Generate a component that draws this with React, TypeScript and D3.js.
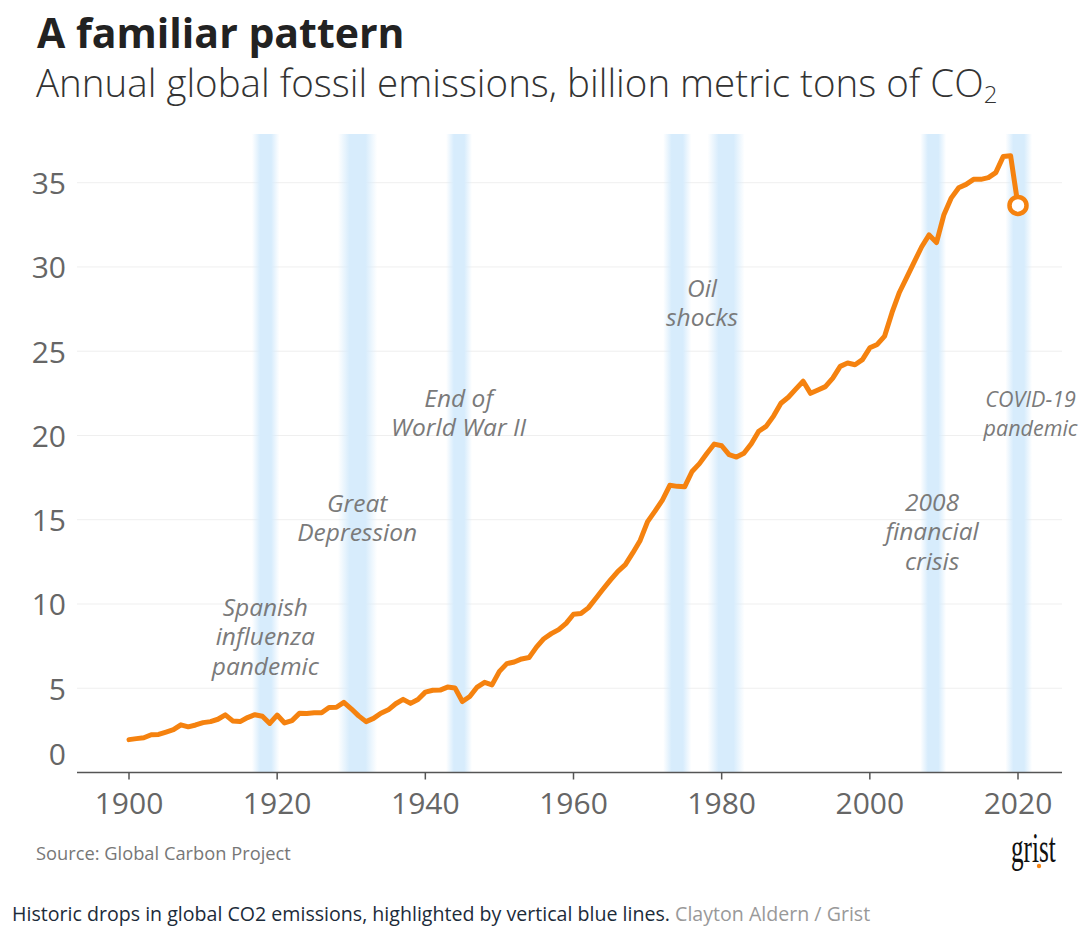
import React from "react";
import * as d3 from "d3";

const years = [
  1900, 1901, 1902, 1903, 1904, 1905, 1906, 1907, 1908, 1909,
  1910, 1911, 1912, 1913, 1914, 1915, 1916, 1917, 1918, 1919,
  1920, 1921, 1922, 1923, 1924, 1925, 1926, 1927, 1928, 1929,
  1930, 1931, 1932, 1933, 1934, 1935, 1936, 1937, 1938, 1939,
  1940, 1941, 1942, 1943, 1944, 1945, 1946, 1947, 1948, 1949,
  1950, 1951, 1952, 1953, 1954, 1955, 1956, 1957, 1958, 1959,
  1960, 1961, 1962, 1963, 1964, 1965, 1966, 1967, 1968, 1969,
  1970, 1971, 1972, 1973, 1974, 1975, 1976, 1977, 1978, 1979,
  1980, 1981, 1982, 1983, 1984, 1985, 1986, 1987, 1988, 1989,
  1990, 1991, 1992, 1993, 1994, 1995, 1996, 1997, 1998, 1999,
  2000, 2001, 2002, 2003, 2004, 2005, 2006, 2007, 2008, 2009,
  2010, 2011, 2012, 2013, 2014, 2015, 2016, 2017, 2018, 2019,
  2020,
];

const emissions = [
  1.95, 2.01, 2.06, 2.24, 2.26, 2.4, 2.54, 2.83, 2.71, 2.82,
  2.96, 3.02, 3.16, 3.42, 3.06, 3.02, 3.26, 3.43, 3.34, 2.91,
  3.41, 2.94, 3.08, 3.51, 3.5, 3.54, 3.55, 3.86, 3.87, 4.16,
  3.78, 3.36, 3.02, 3.21, 3.52, 3.72, 4.08, 4.34, 4.1, 4.33,
  4.77, 4.88, 4.89, 5.07, 5.02, 4.21, 4.51, 5.07, 5.35, 5.2,
  6.0, 6.46, 6.56, 6.74, 6.82, 7.44, 7.94, 8.24, 8.48, 8.85,
  9.39, 9.43, 9.77, 10.33, 10.89, 11.43, 11.94, 12.34, 13.03, 13.77,
  14.89, 15.51, 16.17, 17.04, 16.98, 16.95, 17.86, 18.33, 18.93, 19.49,
  19.39, 18.86, 18.72, 18.94, 19.51, 20.25, 20.54, 21.15, 21.91, 22.27,
  22.75, 23.22, 22.5, 22.7, 22.9, 23.4, 24.1, 24.3, 24.2, 24.5,
  25.2, 25.4, 25.9, 27.3, 28.5, 29.4, 30.3, 31.2, 31.9, 31.45,
  33.1, 34.1, 34.7, 34.9, 35.2, 35.2, 35.3, 35.6, 36.55, 36.6,
  33.65,
];

const yTicks = [0, 5, 10, 15, 20, 25, 30, 35];
const xTicks = [1900, 1920, 1940, 1960, 1980, 2000, 2020];

const bandStarts = [1916.6, 1928.2, 1942.8, 1972.1, 1978.1, 2006.8, 2018.3];
const bandEnds = [1920.3, 1933.5, 1946.3, 1975.9, 1983.1, 2010.3, 2021.9];

const annotationYears = [1918.4, 1930.8, 1944.5, 1977.35, 2008.4, 2021.7];
const annotationValues = [9.29, 15.46, 21.7, 28.22, 15.52, 21.7];
const annotationLines = [
  ["Spanish", "influenza", "pandemic"],
  ["Great", "Depression"],
  ["End of", "World War II"],
  ["Oil", "shocks"],
  ["2008", "financial", "crisis"],
  ["COVID-19", "pandemic"],
];

const FONT = "'Open Sans', 'Noto Sans', sans-serif";
const ORANGE = "#f5820f";

export default function App() {
  const x = d3.scaleLinear().domain([1900, 2020]).range([129, 1018]);
  const y = d3.scaleLinear().domain([0, 35]).range([772.5, 182.7]);
  const data = years.map((yr, i) => ({ yr, v: emissions[i] }));
  const line = d3
    .line<{ yr: number; v: number }>()
    .x((d) => x(d.yr))
    .y((d) => y(d.v));
  const last = data[data.length - 1];
  const axisY = y(0);

  return (
    <svg
      width={1080}
      height={939}
      style={{ position: "absolute", left: 0, top: 0, background: "#fff" }}
      fontFamily={FONT}
    >
      <defs>
        <linearGradient id="bandGrad" x1="0" x2="1" y1="0" y2="0">
          <stop offset="0%" stopColor="#d7ecfc" stopOpacity={0} />
          <stop offset="30%" stopColor="#d7ecfc" stopOpacity={1} />
          <stop offset="70%" stopColor="#d7ecfc" stopOpacity={1} />
          <stop offset="100%" stopColor="#d7ecfc" stopOpacity={0} />
        </linearGradient>
      </defs>
      <rect x={0} y={0} width={1080} height={939} fill="#fff" />

      {/* title */}
      <text x={37} y={48} fontSize={41} fontWeight={700} fill="#222">
        A familiar pattern
      </text>
      <text x={36} y={97} fontSize={38.5} fontWeight={300} fill="#333">
        Annual global fossil emissions, billion metric tons of CO
        <tspan fontSize={24} dy={6}>2</tspan>
      </text>

      {/* gridlines */}
      {yTicks
        .filter((t) => t > 0)
        .map((t) => (
          <line
            key={"g" + t}
            x1={77}
            x2={1062}
            y1={y(t)}
            y2={y(t)}
            stroke="#efefef"
            strokeWidth={1}
          />
        ))}

      {/* bands */}
      {bandStarts.map((s, i) => (
        <rect
          key={"b" + i}
          x={x(s)}
          y={134}
          width={x(bandEnds[i]) - x(s)}
          height={axisY - 134}
          fill="url(#bandGrad)"
        />
      ))}

      {/* y labels */}
      {yTicks.map((t) => (
        <text
          key={"yl" + t}
          x={66}
          y={t === 0 ? 753 : y(t)}
          textAnchor="end"
          dominantBaseline="central"
          fontSize={30}
          fill="#666"
        >
          {t}
        </text>
      ))}

      {/* x axis */}
      <line x1={77} x2={1062} y1={axisY} y2={axisY} stroke="#555" strokeWidth={1.5} />
      {xTicks.map((t) => (
        <g key={"xt" + t}>
          <line x1={x(t)} x2={x(t)} y1={axisY} y2={axisY + 7} stroke="#555" strokeWidth={1.5} />
          <text x={x(t)} y={814} textAnchor="middle" fontSize={30} fill="#666">
            {t}
          </text>
        </g>
      ))}

      {/* annotations */}
      {annotationLines.map((lines, i) => {
        const isLast = i === annotationLines.length - 1;
        return (
          <text
            key={"a" + i}
            x={x(annotationYears[i])}
            y={y(annotationValues[i])}
            textAnchor="middle"
            fontSize={isLast ? 21.5 : 24.5}
            fontStyle="italic"
            fill="#7a7a7a"
          >
            {lines.map((l, j) => (
              <tspan key={j} x={x(annotationYears[i])} dy={j === 0 ? 0 : 29.5}>
                {l}
              </tspan>
            ))}
          </text>
        );
      })}

      {/* line */}
      <path
        d={line(data) || ""}
        fill="none"
        stroke={ORANGE}
        strokeWidth={5}
        strokeLinejoin="round"
        strokeLinecap="round"
      />
      <circle cx={x(last.yr)} cy={y(last.v)} r={8.5} fill="#fff" stroke={ORANGE} strokeWidth={4.5} />

      {/* footer */}
      <text x={36} y={860} fontSize={18.3} fill="#777">
        Source: Global Carbon Project
      </text>
      <g transform="translate(1011,862) scale(0.6,1)">
        <text x={0} y={0} fontSize={42} fontFamily="'Liberation Serif', 'DejaVu Serif', serif" fill="#111">
          grist
        </text>
      </g>
      <circle cx={1039} cy={866} r={2.2} fill={ORANGE} />
      <text x={12} y={921} fontSize={19.6} fill="#1c2b3a">
        Historic drops in global CO2 emissions, highlighted by vertical blue lines.{" "}
        <tspan fill="#999">Clayton Aldern / Grist</tspan>
      </text>
    </svg>
  );
}
